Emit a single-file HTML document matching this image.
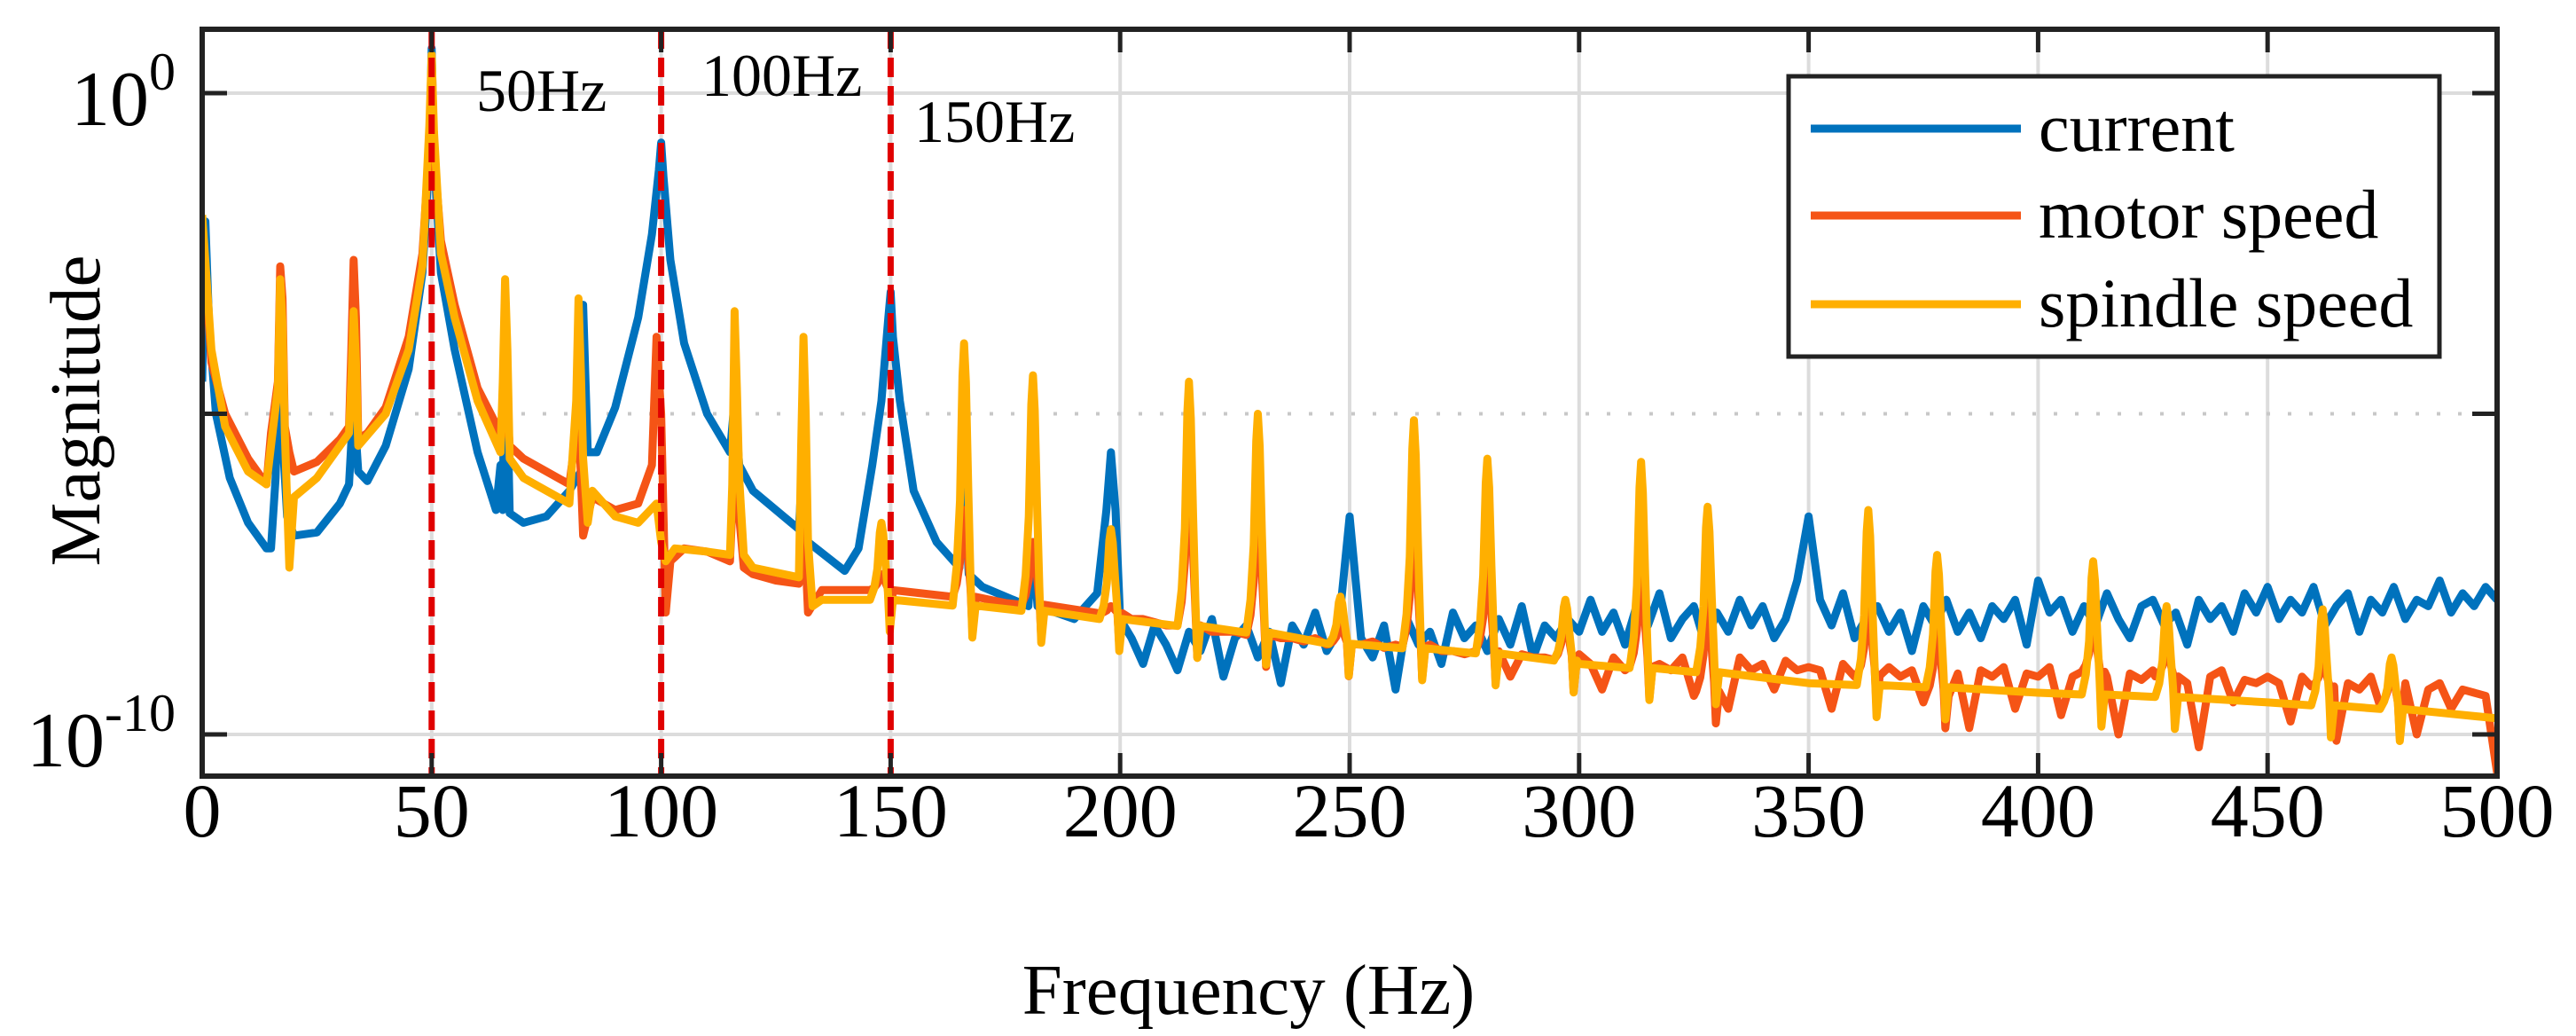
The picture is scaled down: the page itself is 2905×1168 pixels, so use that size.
<!DOCTYPE html>
<html><head><meta charset="utf-8"><style>
html,body{margin:0;padding:0;background:#fff;}
svg{display:block;font-family:"Liberation Serif",serif;}
</style></head><body>
<svg id="chart" width="2905" height="1168" viewBox="0 0 2905 1168" xmlns="http://www.w3.org/2000/svg">
<defs><clipPath id="clip"><rect x="228" y="33" width="2588" height="842"/></clipPath></defs>
<g id="grid"></g>
<g id="series" clip-path="url(#clip)"></g>
<g id="markers"></g>
<g id="axes"></g>
<text x="1408" y="1143" font-size="81" text-anchor="middle">Frequency (Hz)</text>
<text transform="translate(112,463) rotate(-90)" font-size="81" text-anchor="middle">Magnitude</text>
<g>
<rect x="2017" y="86" width="734" height="316" fill="#fff" stroke="#222" stroke-width="5"/>
<g><line x1="2042" y1="145" x2="2279" y2="145" stroke="#0072BD" stroke-width="9"/><text x="2299" y="170" font-size="78">current</text></g>
<g><line x1="2042" y1="243" x2="2279" y2="243" stroke="#F55416" stroke-width="9"/><text x="2299" y="268" font-size="78">motor speed</text></g>
<g><line x1="2042" y1="343" x2="2279" y2="343" stroke="#FFAF00" stroke-width="9"/><text x="2299" y="368" font-size="78">spindle speed</text></g>
</g>
</svg>
<script>
// ---- data ----
const xTicks = [0,50,100,150,200,250,300,350,400,450,500];
const yTickExps = [0,-10];
const markerFreqs = [50,100,150];
const markerLabels = ["50Hz","100Hz","150Hz"];

const blueLowFreq = [0,0.7,1.5,3,6,10,14,15,16,17,17.7,18.5,20,25,30,32,33,34,36,40,45,48,49.5,50,50.5,52,55,60,64,65,65.5,66,67,70,75,80,82.5,83,84,86,90,95,98,99.5,100,100.5,102,105,110,115,116,117,120,130,131,132,140,143,146,148,149.5,150,150.5,152,155,160,165,166,167,170,180,181,182,190,195,197,198,199];
const blueLowMag = [-4.5,-2.0,-3.6,-5.0,-6.0,-6.7,-7.1,-7.1,-6.0,-3.5,-5.6,-6.6,-6.9,-6.85,-6.4,-6.1,-4.8,-5.9,-6.05,-5.5,-4.3,-2.8,-1.0,0.7,-1.0,-2.8,-4.0,-5.6,-6.5,-5.8,-6.5,-3.2,-6.55,-6.7,-6.6,-6.2,-5.9,-3.3,-5.6,-5.6,-4.9,-3.5,-2.2,-1.2,-0.77,-1.3,-2.6,-3.9,-5.0,-5.6,-4.8,-5.8,-6.2,-6.8,-5.5,-7.0,-7.45,-7.1,-5.8,-4.8,-3.5,-3.1,-3.8,-4.8,-6.2,-7.0,-7.4,-6.0,-7.5,-7.7,-8.0,-7.0,-8.0,-8.2,-7.8,-6.5,-5.6,-6.5];
const blueNoiseStart = 200, noiseStep = 2.5;
const blueNoise = [-8.2,-8.5,-8.9,-8.3,-8.6,-9.0,-8.4,-8.7,-8.2,-9.1,-8.5,-8.3,-8.8,-8.4,-9.2,-8.3,-8.6,-8.1,-8.7,-8.4,-6.6,
-8.5,-8.8,-8.3,-9.3,-8.2,-8.6,-8.4,-8.9,-8.1,-8.5,-8.3,-8.7,-8.2,-8.6,-8.0,-8.8,-8.3,-8.5,-8.2,-8.4,
-7.9,-8.4,-8.1,-8.6,-8.0,-8.3,-7.8,-8.5,-8.2,-8.0,-8.6,-8.1,-8.4,-7.9,-8.3,-8.0,-8.5,-8.2,-7.6,-6.6,
-7.9,-8.3,-7.8,-8.5,-8.2,-8.0,-8.4,-8.1,-8.7,-8.0,-8.3,-7.9,-8.4,-8.1,-8.5,-8.0,-8.2,-7.9,-8.6,-7.6,
-8.1,-7.9,-8.4,-8.0,-8.3,-7.8,-8.2,-8.5,-8.0,-7.9,-8.3,-8.1,-8.6,-7.9,-8.2,-8.0,-8.4,-7.8,-8.1,-7.7,
-8.2,-7.9,-8.1,-7.7,-8.3,-8.0,-7.8,-8.4,-7.9,-8.1,-7.7,-8.2,-7.9,-8.0,-7.6,-8.1,-7.8,-8.0,-7.7,-7.9];

const orangeLowFreq = [0,2,5,10,14,15,16.5,17,17.5,18,19,20,25,30,32,32.5,33,33.5,34,36,40,45,48,49.5,50,50.5,52,55,60,65,66,67,70,80,82,83,85,90,95,98,99,100,101,102,105,110,115,116,117,118,120,125,130,131,132,135,140,147,150,175,199];
const orangeLowMag = [-2.0,-4.2,-5.0,-5.7,-6.1,-5.3,-4.5,-2.7,-3.2,-5.2,-5.6,-5.9,-5.75,-5.4,-5.2,-4.0,-2.6,-3.5,-5.4,-5.3,-4.9,-3.8,-2.5,-0.8,0.2,-0.9,-2.3,-3.3,-4.6,-5.3,-4.5,-5.5,-5.7,-6.1,-5.0,-6.9,-6.3,-6.5,-6.4,-5.8,-3.8,-5.0,-8.1,-7.3,-7.1,-7.15,-7.3,-5.7,-6.6,-7.4,-7.5,-7.6,-7.65,-6.5,-8.1,-7.75,-7.75,-7.75,-7.75,-7.95,-8.15];
const orangeNoise = [-8.15,-8.2,-8.2,-8.25,-8.3,-8.3,-8.35,-8.35,-8.4,-8.4,-8.4,-8.45,-8.45,-8.5,-8.5,-8.5,-8.55,-8.5,-8.6,-8.55,-8.5,
-8.6,-8.55,-8.65,-8.6,-8.65,-8.7,-8.6,-8.7,-8.7,-8.75,-8.7,-8.75,-8.8,-9.1,-8.75,-8.8,-8.8,-8.85,-8.8,-8.75,
-8.9,-9.3,-8.8,-9.0,-8.85,-9.5,-8.9,-9.0,-8.8,-9.4,-8.95,-8.9,-9.6,-8.8,-9.0,-8.9,-9.3,-8.85,-9.0,-8.95,
-9.0,-9.6,-8.9,-9.1,-9.0,-9.8,-8.95,-9.1,-9.0,-9.5,-8.9,-9.2,-9.05,-9.9,-9.0,-9.1,-8.95,-9.6,-9.05,-9.1,
-8.95,-9.7,-9.1,-9.0,-9.4,-9.1,-10.0,-9.05,-9.15,-9.0,-9.6,-9.1,-9.2,-10.2,-9.1,-9.0,-9.5,-9.15,-9.2,-9.1,
-9.2,-9.8,-9.1,-9.3,-9.15,-10.1,-9.2,-9.3,-9.1,-9.7,-9.25,-9.2,-10.0,-9.3,-9.2,-9.6,-9.3,-9.35,-9.4,-10.6];

const yellowLowFreq = [0,2,5,10,14,15,16.5,17,17.5,18,19,20,25,30,32,32.5,33,33.5,34,40,45,48,49.5,50,50.5,52,55,60,65,65.5,66,66.5,67,70,80,81.5,82,82.5,83,84,85,90,95,99,100,101,103,110,115,115.5,116,116.5,117,118,120,130,130.5,131,131.5,132,133,135,145,150,200,250,300,350,400,450,500];
const yellowLowMag = [-1.9,-4.0,-5.2,-5.9,-6.1,-5.5,-4.6,-2.9,-3.6,-5.3,-7.4,-6.3,-6.0,-5.5,-5.3,-4.5,-3.4,-4.2,-5.5,-5.0,-4.0,-2.7,-0.5,0.6,-0.6,-2.5,-3.5,-4.8,-5.6,-4.5,-2.9,-4.0,-5.7,-6.0,-6.4,-4.8,-3.2,-4.3,-5.7,-6.7,-6.2,-6.6,-6.7,-6.4,-7.0,-7.3,-7.1,-7.15,-7.2,-6.1,-3.4,-4.6,-6.0,-7.2,-7.4,-7.55,-5.5,-3.8,-5.0,-7.0,-8.0,-7.9,-7.9,-7.9,-8.25,-8.65,-8.9,-9.2,-9.35,-9.5,-9.75];

const harmonicFreqs = [148,166,181,198,215,230,248,264,280,297,313.5,328,363,378,412,428,462,477];
const yellowPeaks   = [-6.7,-3.9,-4.4,-6.8,-4.5,-5.0,-7.85,-5.1,-5.7,-7.9,-5.75,-6.45,-6.5,-7.2,-7.3,-8.0,-8.05,-8.8];
const orangePeaks   = [-7.5,-6.5,-7.0,-8.0,-5.85,-6.4,-8.3,-6.7,-7.4,-8.2,-7.5,-7.9,-8.0,-8.3,-8.3,-8.7,-8.9,-9.0];

// ---- axes ----
const X0=228,X1=2816,Y0=33,Y1=875;
const xs = f => X0 + (f/500)*(X1-X0);
const ys = L => 105 + (0-L)*72.3;
const NS="http://www.w3.org/2000/svg";
function mk(tag, attrs, parent){const e=document.createElementNS(NS,tag);for(const k in attrs)e.setAttribute(k,attrs[k]);parent.appendChild(e);return e;}

const grid=document.getElementById('grid'), axes=document.getElementById('axes'), ser=document.getElementById('series'), mkr=document.getElementById('markers');
xTicks.forEach(t=>{
  if(t>0&&t<500){const g=mk('line',{x1:xs(t),x2:xs(t),y1:Y0,y2:Y1,stroke:'#dcdcdc','stroke-width':4},grid);
  
  }
  mk('line',{x1:xs(t),x2:xs(t),y1:Y1,y2:Y1-26,stroke:'#222','stroke-width':5},axes);
  mk('line',{x1:xs(t),x2:xs(t),y1:Y0,y2:Y0+26,stroke:'#222','stroke-width':5},axes);
  const tx=mk('text',{x:xs(t),y:943,'font-size':86,'text-anchor':'middle'},axes);
  tx.textContent=t;
  
  
});
yTickExps.forEach(e=>{
  const g=mk('line',{x1:X0,x2:X1,y1:ys(e),y2:ys(e),stroke:'#dcdcdc','stroke-width':4},grid);
  
  
  mk('line',{x1:X0,x2:X0+28,y1:ys(e),y2:ys(e),stroke:'#222','stroke-width':5},axes);
  mk('line',{x1:X1,x2:X1-28,y1:ys(e),y2:ys(e),stroke:'#222','stroke-width':5},axes);
  const tx=mk('text',{x:198,y:ys(e)+36,'font-size':88,'text-anchor':'end'},axes);
  
  
  const b=document.createElementNS(NS,'tspan');b.textContent='10';tx.appendChild(b);
  const s=document.createElementNS(NS,'tspan');s.setAttribute('dy','-40');s.setAttribute('font-size','60');s.textContent=String(e);tx.appendChild(s);
});
{const d=mk('line',{x1:X0,x2:X1,y1:ys(-5),y2:ys(-5),stroke:'#c8c8c8','stroke-width':4,'stroke-dasharray':'4 20'},grid);


mk('line',{x1:X0,x2:X0+28,y1:ys(-5),y2:ys(-5),stroke:'#222','stroke-width':5},axes);
mk('line',{x1:X1,x2:X1-28,y1:ys(-5),y2:ys(-5),stroke:'#222','stroke-width':5},axes);}
{const r=mk('rect',{x:X0,y:Y0,width:X1-X0,height:Y1-Y0,fill:'none',stroke:'#222','stroke-width':6},axes);

}

// ---- series ----
function buildPoints(lowF, lowM, noise, peaksF, peaksH){
  let pts=lowF.map((f,i)=>[f,lowM[i]]);
  if(noise) noise.forEach((v,i)=>pts.push([blueNoiseStart+i*noiseStep,v]));
  pts.sort((a,b)=>a[0]-b[0]);
  const valAt=f=>{for(let i=1;i<pts.length;i++){if(pts[i][0]>=f){const a=pts[i-1],b=pts[i];const t=(f-a[0])/((b[0]-a[0])||1);return a[1]+t*(b[1]-a[1]);}}return pts[pts.length-1][1];};
  if(peaksF){
    peaksF.forEach((pf,k)=>{
      const h=peaksH[k]; const base=valAt(pf-2.6);
      pts=pts.filter(p=>p[0]<pf-2.5||p[0]>pf+2.5);
      const d=h-base;
      [[-2.5,base],[-1.6,base+0.15*d],[-0.9,base+0.4*d],[-0.35,h-0.25*d*0.5],[0,h],[0.4,h-0.15*d],[0.9,base+0.45*d],[1.4,base+0.1*d],[1.8,base-0.5],[2.5,base]]
        .forEach(o=>pts.push([pf+o[0],o[1]]));
      pts.sort((a,b)=>a[0]-b[0]);
    });
  }
  return pts;
}
function drawSeries(pts,color,name){
  const p=mk('polyline',{points:pts.map(q=>xs(q[0]).toFixed(1)+','+ys(q[1]).toFixed(1)).join(' '),fill:'none',stroke:color,'stroke-width':9,'stroke-linejoin':'round'},ser);
  
  
}
drawSeries(buildPoints(blueLowFreq,blueLowMag,blueNoise,null,null),'#0072BD','current-line');
drawSeries(buildPoints(orangeLowFreq,orangeLowMag,orangeNoise,harmonicFreqs,orangePeaks),'#F55416','motor-speed-line');
drawSeries(buildPoints(yellowLowFreq,yellowLowMag,null,harmonicFreqs,yellowPeaks),'#FFAF00','spindle-speed-line');

// ---- markers ----
const labelPos=[[537,125],[791,108],[1031,160]];
markerFreqs.forEach((f,i)=>{
  const l=mk('line',{x1:xs(f),x2:xs(f),y1:Y0,y2:Y1,stroke:'#E00000','stroke-width':7,'stroke-dasharray':'22 10'},mkr);
  
  
  const t=mk('text',{x:labelPos[i][0],y:labelPos[i][1],'font-size':68},mkr);
  t.textContent=markerLabels[i];
  
  
});
</script>
</body></html>
